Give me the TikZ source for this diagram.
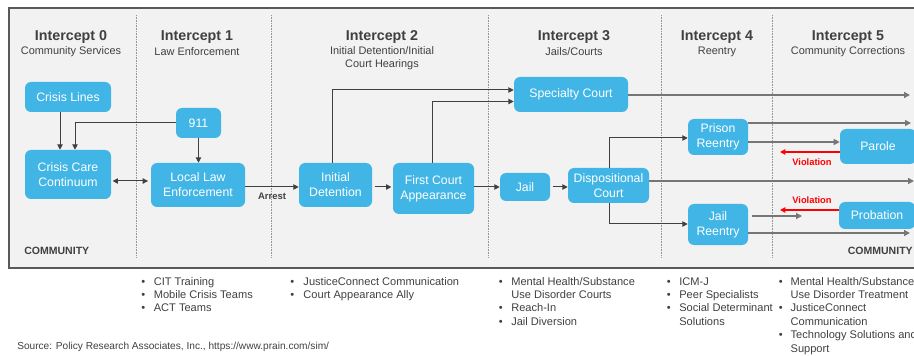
\documentclass[tikz,border=0pt]{standalone}
\usepackage{fontspec}
\setmainfont{Liberation Sans}
\usetikzlibrary{arrows.meta}

\definecolor{simblue}{RGB}{65,182,230}
\definecolor{simpanel}{RGB}{242,242,242}
\definecolor{simframe}{RGB}{89,89,89}
\definecolor{simtext}{RGB}{64,64,64}
\definecolor{simline}{RGB}{64,64,64}
\definecolor{simout}{RGB}{118,118,118}
\definecolor{simdots}{RGB}{150,150,150}
\definecolor{simred}{RGB}{255,0,0}
\tikzset{box/.style={fill=simblue, rounded corners=4.5pt, text=white, align=center, inner sep=0pt, font=\fontsize{9.2}{11.2}\selectfont}}
\tikzset{flow/.style={line width=0.75pt, color=simline, -{Triangle[length=4pt,width=4pt]}}}
\tikzset{outflow/.style={line width=1.1pt, color=simout, -{Triangle[length=4.5pt,width=4.5pt]}}}
\tikzset{violation/.style={line width=1pt, color=simred, -{Triangle[length=4pt,width=4pt]}}}
\tikzset{laneline/.style={line width=0.6pt, color=simdots, dash pattern=on 0.6pt off 0.6pt}}
\tikzset{heading/.style={font=\fontsize{10.7}{12}\selectfont\bfseries, text=simtext, inner sep=0pt}}
\tikzset{subhead/.style={font=\fontsize{8.2}{9.75}\selectfont, text=simtext, align=center, inner sep=0pt}}
\tikzset{tag/.style={font=\fontsize{7.9}{9}\selectfont\bfseries, text=simtext, inner sep=0pt}}
\tikzset{bullets/.style={font=\fontsize{8.3}{10.1}\selectfont, text=simtext, inner sep=0pt}}

\begin{document}
\begin{tikzpicture}[x=0.75pt, y=-0.75pt]%{{{
        \useasboundingbox (0,0) rectangle (914,356);
        \clip (0,0) rectangle (914,356);
        \draw[draw=simframe, fill=simpanel, line width=1pt] (9,8) rectangle (930,268);

        \draw[laneline] (136,15) -- (136,257);
        \draw[laneline] (271,15) -- (271,257);
        \draw[laneline] (488,15) -- (488,257);
        \draw[laneline] (661,15) -- (661,257);
        \draw[laneline] (772,15) -- (772,257);

        \node[heading] (int0) at (71,37) {Intercept 0};
        \node[heading] (int1) at (197,37) {Intercept 1};
        \node[heading] (int2) at (382,37) {Intercept 2};
        \node[heading] (int3) at (574,37) {Intercept 3};
        \node[heading] (int4) at (717,37) {Intercept 4};
        \node[heading] (int5) at (848,37) {Intercept 5};
        \node[subhead] (sub0) at (71,52) {Community Services};
        \node[subhead] (sub1) at (197,52) {Law Enforcement};
        \node[subhead] (sub2) at (382,58.5) {Initial Detention/Initial\\Court Hearings};
        \node[subhead] (sub3) at (574,52) {Jails/Courts};
        \node[subhead] (sub4) at (717,52) {Reentry};
        \node[subhead] (sub5) at (848,52) {Community Corrections};

        \node[box, minimum width=64.5pt, minimum height=22.5pt] (crisislines) at (68,97) {Crisis Lines};
        \node[box, minimum width=33.75pt, minimum height=22.5pt] (nineoneone) at (198.5,123) {911};
        \node[box, minimum width=64.5pt, minimum height=36.75pt] (crisiscare) at (68,174.5) {Crisis Care\\Continuum};
        \node[box, minimum width=70.5pt, minimum height=33pt] (lawenf) at (198,185) {Local Law\\Enforcement};
        \node[box, minimum width=54.75pt, minimum height=33pt] (initdet) at (335.5,185) {Initial\\Detention};
        \node[box, minimum width=60.75pt, minimum height=38.25pt] (firstcourt) at (433.5,188.5) {First Court\\Appearance};
        \node[box, minimum width=37.5pt, minimum height=21pt] (jail) at (525,187) {Jail};
        \node[box, minimum width=60.75pt, minimum height=26.25pt] (dispo) at (608.5,185.5) {Dispositional\\Court};
        \node[box, minimum width=85.5pt, minimum height=26.25pt] (specialty) at (571,94.5) {Specialty Court};
        \node[box, minimum width=45pt, minimum height=27pt] (prison) at (718,137) {Prison\\Reentry};
        \node[box, minimum width=45pt, minimum height=30.75pt] (jailre) at (718,224.5) {Jail\\Reentry};
        \node[box, minimum width=57pt, minimum height=26.25pt] (parole) at (878,146.5) {Parole};
        \node[box, minimum width=57pt, minimum height=20.25pt] (probation) at (877,215.5) {Probation};

        \coordinate (exitspecialty) at (910,95);
        \coordinate (exitprison) at (911,123);
        \coordinate (exitdispo) at (914,181);
        \coordinate (exitjailre) at (910,233);
        \coordinate (backparole) at (780,152);
        \coordinate (backprobation) at (780,210);
        \coordinate (jrstart) at (752,216);
        \coordinate (jrend) at (802,216);

        \draw [flow] (60,0 |- crisislines.south) -- (60,0 |- crisiscare.north);
        \draw [flow] (nineoneone.west) -| (75,0 |- crisiscare.north);
        \draw [flow] (nineoneone.south) -- (nineoneone.south |- lawenf.north);
        \draw [flow, {Triangle[length=4pt,width=4pt]}-{Triangle[length=4pt,width=4pt]}, shorten <=1pt, shorten >=2pt] (crisiscare.east |- 0,181) -- (lawenf.west |- 0,181);
        \draw [flow] (lawenf.east |- 0,187) -- (initdet.west |- 0,187) node[tag, font=\fontsize{7.1}{8}\selectfont\bfseries, midway, below=4pt] (arrest) {Arrest};
        \draw [flow, shorten <=2pt, shorten >=1pt] (initdet.east |- 0,187) -- (firstcourt.west |- 0,187);
        \draw [flow] (firstcourt.east |- 0,187) -- (jail.west |- 0,187);
        \draw [flow, shorten <=2pt] (jail.east |- 0,187) -- (dispo.west |- 0,187);
        \draw [flow] (332,0 |- initdet.north) |- (specialty.west |- 0,90);
        \draw [flow] (432,0 |- firstcourt.north) |- (specialty.west |- 0,101.5);
        \draw [outflow] (specialty.east |- exitspecialty) -- (exitspecialty);
        \draw [flow] (609,0 |- dispo.north) |- (prison.west |- 0,138);
        \draw [flow] (609,0 |- dispo.south) |- (jailre.west |- 0,224);
        \draw [outflow] (dispo.east |- exitdispo) -- (exitdispo);
        \draw [outflow, line width=0.9pt] (prison.east |- exitprison) -- (exitprison);
        \draw [outflow, line width=0.9pt] (prison.east |- 0,142) -- (parole.west |- 0,142);
        \draw [violation] (parole.west |- backparole) -- (backparole);
        \draw [outflow, line width=0.9pt] (jrstart) -- (jrend);
        \draw [violation] (probation.west |- backprobation) -- (backprobation);
        \draw [outflow] (jailre.east |- exitjailre) -- (exitjailre);

        \node[tag, font=\fontsize{7}{8}\selectfont\bfseries, text=simred] (violparole) at (812,162) {Violation};
        \node[tag, font=\fontsize{7}{8}\selectfont\bfseries, text=simred] (violprobation) at (812,200) {Violation};
        \node[tag, anchor=west] (communityleft) at (24,251) {COMMUNITY};
        \node[tag, anchor=east] (communityright) at (913,251) {COMMUNITY};

        \node[bullets, anchor=base west] (tools1) at (141,285) {\begin{tabular}[t]{@{}l@{\hspace{6.5pt}}l@{}}\textbullet & CIT Training\\ \textbullet & Mobile Crisis Teams\\ \textbullet & ACT Teams\end{tabular}};
        \node[bullets, anchor=base west] (tools2) at (290,285) {\begin{tabular}[t]{@{}l@{\hspace{7pt}}l@{}}\textbullet & JusticeConnect Communication\\ \textbullet & Court Appearance Ally\end{tabular}};
        \node[bullets, anchor=base west] (tools3) at (498.5,285) {\begin{tabular}[t]{@{}l@{\hspace{6.5pt}}l@{}}\textbullet & Mental Health/Substance\\ & Use Disorder Courts\\ \textbullet & Reach-In\\ \textbullet & Jail Diversion\end{tabular}};
        \node[bullets, anchor=base west] (tools4) at (666.5,285) {\begin{tabular}[t]{@{}l@{\hspace{6.5pt}}l@{}}\textbullet & ICM-J\\ \textbullet & Peer Specialists\\ \textbullet & Social Determinant\\ & Solutions\end{tabular}};
        \node[bullets, anchor=base west] (tools5) at (778.5,285) {\begin{tabular}[t]{@{}l@{\hspace{6pt}}l@{}}\textbullet & Mental Health/Substance\\ & Use Disorder Treatment\\ \textbullet & JusticeConnect\\ & Communication\\ \textbullet & Technology Solutions and\\ & Support\end{tabular}};

        \node[bullets, font=\fontsize{7.6}{9}\selectfont, anchor=west] (source) at (17,347) {Source: Policy Research Associates, Inc., https://www.prain.com/sim/};
    \end{tikzpicture}
\end{document}
